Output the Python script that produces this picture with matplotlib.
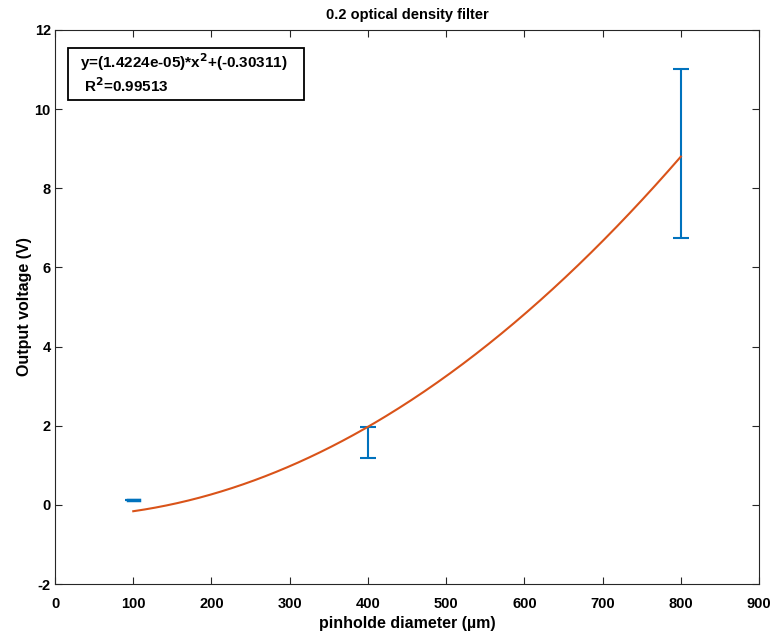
import numpy as np
import matplotlib
matplotlib.use("Agg")
import matplotlib.pyplot as plt
from matplotlib.patches import Rectangle

plt.rcParams['font.family'] = ['Liberation Sans', 'DejaVu Sans']
plt.rcParams['font.weight'] = 'bold'
plt.rcParams['axes.unicode_minus'] = False
plt.rcParams['mathtext.default'] = 'bf'

x_pts = [100, 400, 800]
y_means = [0.12, 1.58, 8.88]
y_err = [0.0, 0.40, 2.13]
coef_a = 1.4224e-05
coef_b = -0.30311
r2 = 0.99513

fig = plt.figure(figsize=(7.73, 6.35), dpi=100)
ax = fig.add_axes([0.0712, 0.0803, 0.9108, 0.8725])

blue = '#0072BD'
orange = '#D95319'

ax.errorbar(x_pts, y_means, yerr=y_err, fmt='none', ecolor=blue,
            elinewidth=1.5, capsize=6, capthick=1.5)
# zero-length error bar at first point shows only cap
ax.plot([x_pts[0]-7, x_pts[0]+7], [y_means[0], y_means[0]], color=blue, lw=2.5)

xf = np.linspace(min(x_pts), max(x_pts), 300)
ax.plot(xf, coef_a * xf**2 + coef_b, color=orange, lw=1.5)

ax.set_xlim(0, 900)
ax.set_ylim(-2, 12)
ax.set_xticks(np.arange(0, 901, 100))
ax.set_yticks(np.arange(-2, 13, 2))
ax.tick_params(direction='in', top=True, right=True, labelsize=10.5, length=5,
               color='#262626')
ax.tick_params(axis='x', pad=9)
ax.tick_params(axis='y', pad=3)
for s in ax.spines.values():
    s.set_color('#262626')
for lbl in ax.get_xticklabels() + ax.get_yticklabels():
    lbl.set_fontweight('bold')
ax.set_xlabel('pinholde diameter (µm)', fontsize=11.5, fontweight='bold', labelpad=4)
ax.set_ylabel('Output voltage (V)', fontsize=11.5, fontweight='bold', labelpad=2)
ax.set_title('0.2 optical density filter', fontsize=10.5, fontweight='bold', pad=8)

ax.add_patch(Rectangle((0.0185, 0.8736), 0.3352, 0.0939, transform=ax.transAxes,
                       facecolor='white', edgecolor='black', lw=1.3, zorder=5))
ax.text(0.0355, 0.9215,
        f'y=({coef_a:.4e})*x$^{{2}}$+({coef_b:.5f})\n R$^{{2}}$={r2:.5f}',
        transform=ax.transAxes, fontsize=11, fontweight='bold', va='center', ha='left',
        linespacing=1.2, zorder=6)

fig.savefig('out.png', dpi=100)
